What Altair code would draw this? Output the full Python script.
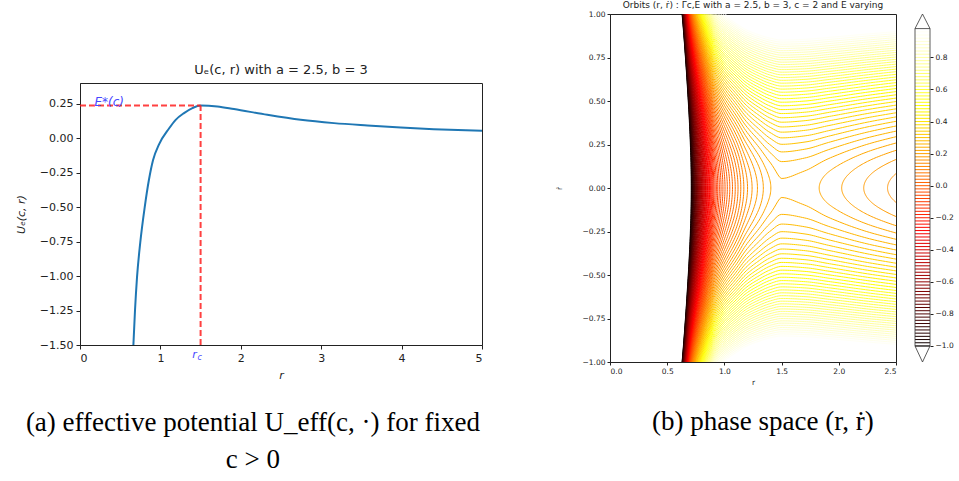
import altair as alt
import numpy as np
import pandas as pd

# ---------------- data ----------------
# effective potential U_e(c, r) (first point estimated from panel (b))
R_PTS = [0.630, 0.664, 0.684, 0.709, 0.749, 0.805, 0.858, 0.908, 0.983, 1.107,
         1.190, 1.294, 1.398, 1.500, 1.709, 1.915, 2.330, 2.745, 3.159, 3.575,
         3.990, 4.400, 5.000]
U_PTS = [-2.00, -1.50, -1.25, -1.01, -0.76, -0.50, -0.30, -0.16, -0.045, 0.07,
         0.133, 0.182, 0.218, 0.237, 0.230, 0.211, 0.169, 0.133, 0.109, 0.092,
         0.077, 0.065, 0.053]
R_C = 1.50          # critical radius r_c
E_STAR = 0.237      # E*(c)

X_TICKS_A = [0, 1, 2, 3, 4, 5]
Y_TICKS_A = [-1.5, -1.25, -1.0, -0.75, -0.5, -0.25, 0.0, 0.25]
X_TICKS_B = [0.0, 0.5, 1.0, 1.5, 2.0, 2.5]
Y_TICKS_B = [-1.0, -0.75, -0.5, -0.25, 0.0, 0.25, 0.5, 0.75, 1.0]
CB_TICKS = [-1.0, -0.8, -0.6, -0.4, -0.2, 0.0, 0.2, 0.4, 0.6, 0.8]
LEVELS = [round(v, 2) for v in np.arange(-1.0, 0.99, 0.02)]   # contour energies E

TITLE_A = "Uₑ(c, r) with a = 2.5, b = 3"
TITLE_B = "Orbits (r, ṙ) : Γc,E with a = 2.5, b = 3, c = 2 and E varying"
CAPTION_A = ["(a) effective potential U_eff(c, ·) for fixed", "c > 0"]
CAPTION_B = "(b) phase space (r, ṙ)"


# ---------------- helpers ----------------
def hot(x):
    x = min(max(x, 0.0), 1.0)
    r = min(1.0, 0.0416 + x / 0.365079 * (1 - 0.0416))
    g = min(max((x - 0.365079) / (0.746032 - 0.365079), 0.0), 1.0)
    b = min(max((x - 0.746032) / (1 - 0.746032), 0.0), 1.0)
    return "#%02x%02x%02x" % (int(round(r * 255)), int(round(g * 255)), int(round(b * 255)))


def level_color(e):
    return hot((e - LEVELS[0]) / (LEVELS[-1] - LEVELS[0]))


def pchip(x, y, xq):
    x = np.asarray(x, float); y = np.asarray(y, float); xq = np.asarray(xq, float)
    h = np.diff(x); d = np.diff(y) / h
    m = np.zeros_like(y)
    m[0], m[-1] = d[0], d[-1]
    for k in range(1, len(x) - 1):
        if d[k - 1] * d[k] > 0:
            w1 = 2 * h[k] + h[k - 1]; w2 = h[k] + 2 * h[k - 1]
            m[k] = (w1 + w2) / (w1 / d[k - 1] + w2 / d[k])
    i = np.clip(np.searchsorted(x, xq) - 1, 0, len(x) - 2)
    t = (xq - x[i]) / h[i]
    h00 = 2 * t**3 - 3 * t**2 + 1; h10 = t**3 - 2 * t**2 + t
    h01 = -2 * t**3 + 3 * t**2; h11 = t**3 - t**2
    return h00 * y[i] + h10 * h[i] * m[i] + h01 * y[i + 1] + h11 * h[i] * m[i + 1]


# smooth potential through the read points
rf = np.linspace(R_PTS[0], R_PTS[-1], 5000)
Uf = pchip(R_PTS, U_PTS, rf)
ic = int(np.argmax(Uf)); Umax = Uf[ic]
rL, UL = rf[:ic + 1], Uf[:ic + 1]
rR, UR = rf[ic:], Uf[ic:]


def U(r):
    return np.interp(r, rf, Uf)


def Linv(u):
    return float(np.interp(u, UL, rL))


def Rinv(u):
    return float(np.interp(u, UR[::-1], rR[::-1]))


# ---------------- level curves E = rdot^2 + U(r) ----------------
rows = []
s = np.linspace(0, 1, 60)
R_END = 2.6
for E in LEVELS:
    col = level_color(E)
    paths = []
    if E < Umax:
        r_top = Linv(max(E - 1.05, U_PTS[0]))
        r1 = Linv(E)
        r = r1 - (r1 - r_top) * s**2
        rd = np.sqrt(np.clip(E - U(r), 0, None))
        paths.append((np.concatenate([r[::-1], r[1:]]), np.concatenate([rd[::-1], -rd[1:]])))
        if E > UR[-1]:
            r2 = Rinv(E)
            if r2 < R_END:
                r = r2 + (R_END - r2) * s**2
                rd = np.sqrt(np.clip(E - U(r), 0, None))
                paths.append((np.concatenate([r[::-1], r[1:]]), np.concatenate([rd[::-1], -rd[1:]])))
    else:
        r_top = Linv(max(E - 1.05, U_PTS[0]))
        ss = np.linspace(0, 1, 150)
        r = r_top + (R_END - r_top) * ss**2
        rd = np.sqrt(np.clip(E - U(r), 0, None))
        paths.append((r, rd))
        paths.append((r, -rd))
    for j, (pr, pd_) in enumerate(paths):
        pid = f"{E:.2f}_{j}"
        for k, (a, b) in enumerate(zip(pr, pd_)):
            rows.append({"r": round(float(a), 4), "rd": round(float(b), 4),
                         "path": pid, "o": k, "col": col})
contour_df = pd.DataFrame(rows)

# ---------------- panel (a) ----------------
FONT = "DejaVu Sans"
SERIF = "Liberation Serif"
INK = "#222222"
BLUE = "#4646ff"
minus = "replace(datum.label, '-', '\u2212')"

xA = alt.X("r:Q", scale=alt.Scale(domain=[0, 5], nice=False, zero=False),
           axis=alt.Axis(values=X_TICKS_A, format="d", title="r", titleFontStyle="italic",
                         labelFontSize=11, titleFontSize=11, tickSize=4, labelPadding=3,
                         titlePadding=6))
yA = alt.Y("U:Q", scale=alt.Scale(domain=[-1.5, 0.4], nice=False, zero=False),
           axis=alt.Axis(values=Y_TICKS_A, format=".2f", labelExpr=minus, title="Uₑ(c, r)",
                         titleFontStyle="italic", labelFontSize=11, titleFontSize=11,
                         tickSize=4, labelPadding=3, titlePadding=13))

curve = alt.Chart(pd.DataFrame({"r": R_PTS, "U": U_PTS})).mark_line(
    color="#1f77b4", strokeWidth=2, interpolate="monotone", clip=True).encode(xA, yA)

hline = alt.Chart(pd.DataFrame({"r": [0.0], "r2": [R_C], "U": [E_STAR]})).mark_rule(
    color="#ff2020", strokeDash=[6, 3], strokeWidth=2, opacity=0.85).encode(xA, yA, x2="r2:Q")
vline = alt.Chart(pd.DataFrame({"r": [R_C], "U": [-1.5], "U2": [E_STAR]})).mark_rule(
    color="#ff2020", strokeDash=[6, 3], strokeWidth=2, opacity=0.85).encode(xA, yA, y2="U2:Q")

estar = alt.Chart(pd.DataFrame({"r": [0.18], "U": [E_STAR], "t": ["E*(c)"]})).mark_text(
    align="left", baseline="alphabetic", dy=1, fontSize=12, font=FONT, fontStyle="italic",
    color=BLUE).encode(xA, yA, text="t:N")
rc_r = alt.Chart(pd.DataFrame({"r": [R_C], "U": [-1.5], "t": ["r"]})).mark_text(
    align="center", baseline="middle", dx=-6, dy=10, fontSize=11, font=FONT, fontStyle="italic",
    color=BLUE).encode(xA, yA, text="t:N")
rc_c = alt.Chart(pd.DataFrame({"r": [R_C], "U": [-1.5], "t": ["c"]})).mark_text(
    align="center", baseline="middle", dx=-1, dy=13, fontSize=8, font=FONT, fontStyle="italic",
    color=BLUE).encode(xA, yA, text="t:N")

panel_a = alt.layer(curve, hline, vline, estar, rc_r, rc_c).properties(
    width=402, height=262,
    title=alt.TitleParams(TITLE_A, fontSize=13, font=FONT, fontWeight="normal", offset=6,
                          color=INK))

spacer = alt.Chart(pd.DataFrame({"dummy": [0]})).mark_point(opacity=0).encode(
    x=alt.X("dummy:Q", axis=None), y=alt.Y("dummy:Q", axis=None)).properties(
    width=402, height=49, view=alt.ViewBackground(strokeWidth=0))

left_col = alt.vconcat(spacer, panel_a, spacing=0).properties(
    title=alt.TitleParams(CAPTION_A, orient="bottom", anchor="middle", frame="bounds",
                          font=SERIF, fontSize=27, fontWeight="normal",
                          lineHeight=37, offset=29, dx=4, color="black"))

# ---------------- panel (b) ----------------
xB = alt.X("r:Q", scale=alt.Scale(domain=[0, 2.5], nice=False, zero=False),
           axis=alt.Axis(values=X_TICKS_B, format=".1f", title="r", labelFontSize=7.5,
                         titleFontSize=7.5, tickSize=3, labelPadding=2, titlePadding=4))
yB = alt.Y("rd:Q", scale=alt.Scale(domain=[-1, 1], nice=False, zero=False),
           axis=alt.Axis(values=Y_TICKS_B, format=".2f", labelExpr=minus, title="ṙ",
                         labelFontSize=7.5, titleFontSize=7.5, tickSize=3, labelPadding=2,
                         titlePadding=19))

panel_b = alt.Chart(contour_df).mark_line(strokeWidth=1, clip=True).encode(
    xB, yB, detail="path:N", order="o:Q", color=alt.Color("col:N", scale=None)).properties(
    width=286, height=348,
    title=alt.TitleParams(TITLE_B, fontSize=9, font=FONT, fontWeight="normal", offset=0,
                          color=INK))

# ---------------- colorbar ----------------
cbX = alt.X("cx:Q", scale=alt.Scale(domain=[0, 1], nice=False, zero=False), axis=None)
cbY = alt.Y("lev:Q", scale=alt.Scale(domain=[-1.10, 1.071], nice=False, zero=False),
            axis=alt.Axis(orient="right", values=CB_TICKS, format=".1f", labelExpr=minus,
                          title=None, domain=False, labelFontSize=7.5, tickSize=3,
                          labelPadding=2))
cb_df = pd.DataFrame({"cx": 0.0, "cx2": 1.0, "lev": LEVELS,
                      "col": [level_color(e) for e in LEVELS]})
cb_lines = alt.Chart(cb_df).mark_rule(strokeWidth=1).encode(
    cbX, cbY, x2="cx2:Q", color=alt.Color("col:N", scale=None))
cb_box = alt.Chart(pd.DataFrame({"cx": [0.0], "cx2": [1.0], "lev": [LEVELS[0]],
                                 "lev2": [LEVELS[-1]]})).mark_rect(
    fillOpacity=0, stroke="#333333", strokeWidth=0.8).encode(cbX, cbY, x2="cx2:Q", y2="lev2:Q")
tri_df = pd.DataFrame({"cx": [0.0, 0.5, 1.0, 0.0, 0.5, 1.0],
                       "lev": [LEVELS[-1], 1.071, LEVELS[-1], LEVELS[0], -1.10, LEVELS[0]],
                       "tri": ["top"] * 3 + ["bottom"] * 3, "o": [0, 1, 2, 0, 1, 2]})
cb_tri = alt.Chart(tri_df).mark_line(color="#333333", strokeWidth=0.8).encode(
    cbX, cbY, detail="tri:N", order="o:Q")
colorbar = alt.layer(cb_lines, cb_box, cb_tri).properties(
    width=15, height=348, view=alt.ViewBackground(strokeWidth=0))

right_grp = alt.hconcat(panel_b, colorbar, spacing=16).properties(
    title=alt.TitleParams(CAPTION_B, orient="bottom", anchor="middle", frame="bounds",
                          font=SERIF, fontSize=27, fontWeight="normal",
                          offset=22, dx=9, color="black"))

chart = alt.hconcat(left_col, right_grp, spacing=71).properties(
    padding={"left": 14, "top": 0, "right": 0, "bottom": 0}
).configure_view(stroke=INK, strokeWidth=1).configure_axis(
    grid=False, domainColor=INK, tickColor=INK, labelColor=INK, titleColor=INK,
    labelFont=FONT, titleFont=FONT, titleFontWeight="normal", domainWidth=1, tickWidth=1)

chart.save("out.html", embed_options={"renderer": "svg", "actions": False})
